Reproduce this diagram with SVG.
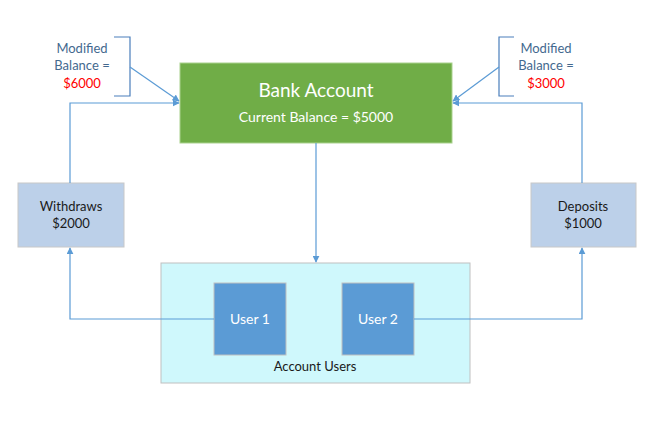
<svg xmlns="http://www.w3.org/2000/svg" width="658" height="422" viewBox="0 0 658 422">
<defs>
<marker id="ah" viewBox="0 0 10 10" refX="9" refY="5" markerWidth="7" markerHeight="7" orient="auto" markerUnits="userSpaceOnUse">
<path d="M0,0 L10,5 L0,10 z" fill="#5B9BD5"/>
</marker>
<style>
text{font-family:Lato,"Open Sans","Liberation Sans",sans-serif;text-anchor:middle}
.c{fill:none;stroke:#5B9BD5;stroke-width:1.2}
.br{fill:none;stroke:#4A7EBB;stroke-width:1.2}
.lbl{font-size:13px;fill:#44698F}
.red{font-size:13px;fill:#FF0000}
.dark{font-size:13px;fill:#1A1A1A}
.wh{fill:#FFFFFF}
</style>
</defs>
<rect width="658" height="422" fill="#FFFFFF"/>
<g id="note-left">
<path class="br" d="M114,37 H130 V96 H114"/>
<text class="lbl" x="82" y="53">Modified</text>
<text class="lbl" x="82" y="70">Balance =</text>
<text class="red" x="82" y="88">$6000</text>
</g>
<g id="note-right">
<path class="br" d="M514,37 H499 V96 H514"/>
<text class="lbl" x="546" y="53">Modified</text>
<text class="lbl" x="546" y="70">Balance =</text>
<text class="red" x="546" y="88">$3000</text>
</g>
<g id="bank-account">
<rect x="180" y="63" width="272" height="80" fill="#70AD47" stroke="#A9D18E" stroke-width="1"/>
<text class="wh" x="316" y="97" font-size="19">Bank Account</text>
<text class="wh" x="316" y="122" font-size="14">Current Balance = $5000</text>
</g>
<g id="withdraws">
<rect x="18" y="183" width="106" height="64" fill="#BCD0E9" stroke="#C8C8C8" stroke-width="1"/>
<text class="dark" x="71" y="211">Withdraws</text>
<text class="dark" x="71" y="228">$2000</text>
</g>
<g id="deposits">
<rect x="531" y="183" width="105" height="64" fill="#BCD0E9" stroke="#C8C8C8" stroke-width="1"/>
<text class="dark" x="583" y="211">Deposits</text>
<text class="dark" x="583" y="228">$1000</text>
</g>
<g id="account-users">
<rect x="161" y="263" width="309" height="120" fill="#CFF8FC" stroke="#C0C0C0" stroke-width="1"/>
<text class="dark" x="315" y="371">Account Users</text>
</g>
<g id="user-1">
<rect x="214" y="283" width="72" height="72" fill="#5B9BD5" stroke="#BFBFBF" stroke-width="1"/>
<text class="wh" x="250" y="324" font-size="14">User 1</text>
</g>
<g id="user-2">
<rect x="342" y="283" width="72" height="72" fill="#5B9BD5" stroke="#BFBFBF" stroke-width="1"/>
<text class="wh" x="378" y="324" font-size="14">User 2</text>
</g>
<g id="connectors">
<path class="c" d="M316,143 V262" marker-end="url(#ah)"/>
<path class="c" d="M214,319 H70 V248" marker-end="url(#ah)"/>
<path class="c" d="M70,183 V103 H179" marker-end="url(#ah)"/>
<path class="c" d="M414,319 H582 V248" marker-end="url(#ah)"/>
<path class="c" d="M582,183 V103 H453" marker-end="url(#ah)"/>
<path class="c" d="M130,67 L179,101" marker-end="url(#ah)"/>
<path class="c" d="M499,67 L453,101" marker-end="url(#ah)"/>
</g>
</svg>
